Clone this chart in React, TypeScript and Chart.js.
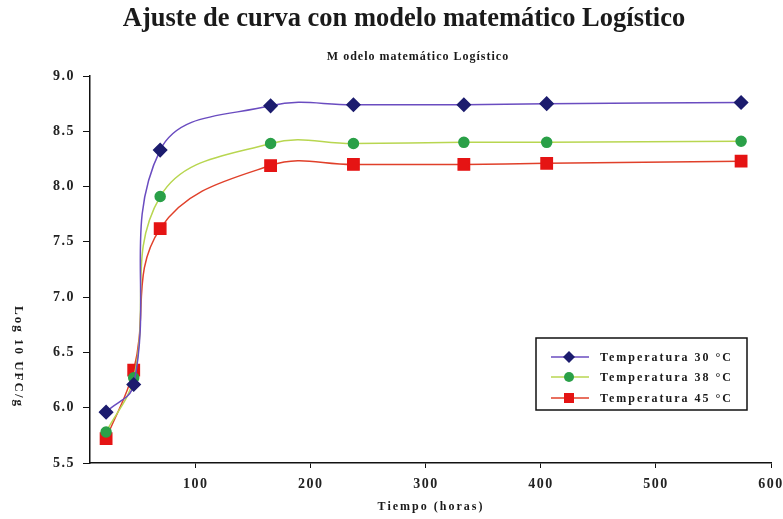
import React, { useEffect, useRef } from "react";
import { Chart, registerables } from "chart.js";

Chart.register(...registerables);

const titleText = "Ajuste de curva con modelo matemático Logístico";
const subtitleText = "M odelo matemático Logístico";
const xTitle = "Tiempo (horas)";
const yTitle = "Log 10 UFC/g";

const tiempo = [22, 46, 69, 165, 237, 333, 405, 574];
const temp30 = [5.96, 6.21, 8.33, 8.73, 8.74, 8.74, 8.75, 8.76];
const temp38 = [5.78, 6.27, 7.91, 8.39, 8.39, 8.4, 8.4, 8.41];
const temp45 = [5.72, 6.34, 7.62, 8.19, 8.2, 8.2, 8.21, 8.23];

const seriesLabels = ["Temperatura 30 °C", "Temperatura 38 °C", "Temperatura 45 °C"];
const xTickValues = [100, 200, 300, 400, 500, 600];

const SERIF = "'Liberation Serif', 'DejaVu Serif', serif";

const spacingPlugin = {
  id: "spacing",
  beforeDraw(chart: any) {
    (chart.ctx as any).letterSpacing = "1.5px";
  },
};

const overlayPlugin = {
  id: "overlay",
  afterDraw(chart: any) {
    const ctx = chart.ctx as CanvasRenderingContext2D;
    ctx.save();
    ctx.fillStyle = "#1a1a1a";
    ctx.textAlign = "center";
    ctx.textBaseline = "middle";
    // title
    (ctx as any).letterSpacing = "0px";
    ctx.font = `bold 26.5px ${SERIF}`;
    ctx.fillText(titleText, 404, 19);
    // subtitle
    (ctx as any).letterSpacing = "1px";
    ctx.font = `bold 12px ${SERIF}`;
    ctx.fillText(subtitleText, 418, 57);
    // x title
    (ctx as any).letterSpacing = "2px";
    ctx.font = `bold 12px ${SERIF}`;
    ctx.fillText(xTitle, 431, 507);
    // y title rotated clockwise
    ctx.save();
    ctx.translate(18, 357);
    ctx.rotate(Math.PI / 2);
    (ctx as any).letterSpacing = "2px";
    ctx.font = `bold 13px ${SERIF}`;
    ctx.fillText(yTitle, 0, 0);
    ctx.restore();

    // legend
    const bx = 536, by = 338, bw = 211, bh = 72;
    (ctx as any).letterSpacing = "0px";
    ctx.fillStyle = "#ffffff";
    ctx.fillRect(bx, by, bw, bh);
    ctx.strokeStyle = "#111";
    ctx.lineWidth = 1.5;
    ctx.strokeRect(bx, by, bw, bh);
    const rows = [357, 377, 398];
    chart.data.datasets.forEach((ds: any, i: number) => {
      const y = rows[i];
      ctx.strokeStyle = ds.borderColor;
      ctx.lineWidth = 1.5;
      ctx.beginPath();
      ctx.moveTo(551, y);
      ctx.lineTo(589, y);
      ctx.stroke();
      ctx.fillStyle = ds.pointBackgroundColor;
      const cx = 569;
      if (ds.pointStyle === "rectRot") {
        const r = 6;
        ctx.beginPath();
        ctx.moveTo(cx, y - r);
        ctx.lineTo(cx + r, y);
        ctx.lineTo(cx, y + r);
        ctx.lineTo(cx - r, y);
        ctx.closePath();
        ctx.fill();
      } else if (ds.pointStyle === "circle") {
        ctx.beginPath();
        ctx.arc(cx, y, 5, 0, Math.PI * 2);
        ctx.fill();
      } else {
        ctx.fillRect(cx - 5, y - 5, 10, 10);
      }
      ctx.fillStyle = "#1a1a1a";
      ctx.textAlign = "left";
      (ctx as any).letterSpacing = "2px";
      ctx.font = `bold 12px ${SERIF}`;
      ctx.fillText(ds.label, 600, y + 1);
      (ctx as any).letterSpacing = "0px";
    });
    ctx.restore();
  },
};

export default function App() {
  const ref = useRef<HTMLCanvasElement | null>(null);
  useEffect(() => {
    if (!ref.current) return;
    const mk = (arr: number[]) => arr.map((y, i) => ({ x: tiempo[i], y }));
    const chart = new Chart(ref.current, {
      type: "line",
      data: {
        datasets: [
          {
            label: seriesLabels[0],
            data: mk(temp30),
            borderColor: "#6a4cc0",
            backgroundColor: "#1c1c6e",
            pointBackgroundColor: "#1c1c6e",
            pointBorderColor: "#1c1c6e",
            pointStyle: "rectRot",
            pointRadius: 6.5,
            borderWidth: 1.5,
            tension: 0.4,
          },
          {
            label: seriesLabels[1],
            data: mk(temp38),
            borderColor: "#b8d650",
            backgroundColor: "#2aa048",
            pointBackgroundColor: "#2aa048",
            pointBorderColor: "#2aa048",
            pointStyle: "circle",
            pointRadius: 5,
            borderWidth: 1.5,
            tension: 0.4,
          },
          {
            label: seriesLabels[2],
            data: mk(temp45),
            borderColor: "#e0402a",
            backgroundColor: "#e51414",
            pointBackgroundColor: "#e51414",
            pointBorderColor: "#e51414",
            pointStyle: "rect",
            pointRadius: 8,
            borderWidth: 1.5,
            tension: 0.4,
          },
        ],
      } as any,
      options: {
        responsive: false,
        animation: false,
        devicePixelRatio: 1,
        layout: { padding: { top: 76, right: 12, left: 0, bottom: 0 } },
        plugins: {
          legend: { display: false },
          title: { display: false },
          tooltip: { enabled: false },
        },
        scales: {
          x: {
            type: "linear",
            min: 8,
            max: 600,
            afterBuildTicks: (axis: any) => {
              axis.ticks = xTickValues.map((v) => ({ value: v }));
            },
            afterFit: (scale: any) => {
              scale.height = 56;
              scale.paddingLeft = 0;
              scale.paddingRight = 0;
            },
            grid: { drawOnChartArea: false, drawTicks: true, tickLength: 5, color: "#111" },
            border: { color: "#111", width: 1.5 },
            ticks: {
              color: "#222",
              padding: 8,
              maxRotation: 0,
              font: { family: SERIF, size: 14, weight: "bold" },
            },
          },
          y: {
            min: 5.5,
            max: 9.0,
            afterFit: (scale: any) => {
              scale.width = 90;
            },
            grid: { drawOnChartArea: false, drawTicks: true, tickLength: 7, color: "#111" },
            border: { color: "#111", width: 1.5 },
            ticks: {
              stepSize: 0.5,
              color: "#222",
              padding: 8,
              font: { family: SERIF, size: 14, weight: "bold" },
              callback: (v: any) => Number(v).toFixed(1),
            },
          },
        },
      } as any,
      plugins: [spacingPlugin, overlayPlugin],
    });
    return () => chart.destroy();
  }, []);
  return (
    <div style={{ position: "absolute", left: 0, top: 0, width: 783, height: 519, background: "#fff" }}>
      <canvas ref={ref} width={783} height={519} style={{ width: 783, height: 519, display: "block" }} />
    </div>
  );
}
